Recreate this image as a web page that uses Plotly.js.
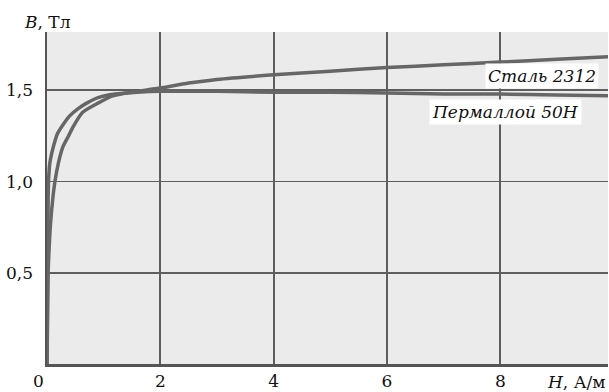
<!DOCTYPE html>
<html>
<head>
<meta charset="utf-8">
<script src="https://cdn.plot.ly/plotly-3.0.1.min.js"></script>
<style>html,body{margin:0;padding:0;background:#fff;}#chart{width:609px;height:392px;}</style>
</head>
<body>
<div id="chart"></div>
<script>
// Сталь 2312
const steelH = [0, 0.02, 0.04, 0.06, 0.1, 0.14, 0.2, 0.28, 0.38, 0.46, 0.63, 0.9, 1.16, 1.5, 1.94, 2.5, 3, 4, 5, 6, 7, 8, 9, 9.9];
const steelB = [0, 0.5, 0.65, 0.76, 0.9, 1.0, 1.1, 1.19, 1.25, 1.30, 1.38, 1.43, 1.47, 1.49, 1.51, 1.54, 1.56, 1.585, 1.605, 1.625, 1.64, 1.655, 1.67, 1.685];
// Пермаллой 50Н
const permH = [0, 0.01, 0.02, 0.03, 0.05, 0.08, 0.12, 0.18, 0.28, 0.4, 0.55, 0.7, 0.9, 1.2, 1.6, 2, 3, 4, 5, 6, 7, 8, 9, 9.9];
const permB = [0, 0.5, 0.9, 1.02, 1.1, 1.15, 1.2, 1.26, 1.31, 1.36, 1.40, 1.43, 1.46, 1.48, 1.49, 1.495, 1.495, 1.49, 1.49, 1.485, 1.48, 1.48, 1.475, 1.47];
const xTicks = [2, 4, 6, 8];
const xTickText = ['2', '4', '6', '8'];
const yTicks = [0.5, 1.0, 1.5];
const yTickText = ['0,5', '1,0', '1,5'];
const seriesNames = ['Сталь 2312', 'Пермаллой 50Н'];

const font = 'DejaVu Serif';
const fsize = 17;
const curveColor = '#666666';

const data = [
  {x: steelH, y: steelB, mode: 'lines', name: seriesNames[0], line: {color: curveColor, width: 3.5, shape: 'spline', smoothing: 0.6}},
  {x: permH, y: permB, mode: 'lines', name: seriesNames[1], line: {color: curveColor, width: 3.5, shape: 'spline', smoothing: 0.6}}
];

const layout = {
  width: 609, height: 392,
  margin: {l: 47, r: 1, t: 32, b: 28},
  paper_bgcolor: '#ffffff',
  plot_bgcolor: '#ebebeb',
  showlegend: false,
  font: {family: font, size: fsize, color: '#111'},
  xaxis: {
    range: [0, 9.9], tickvals: xTicks, ticktext: xTickText,
    showgrid: true, gridcolor: '#5e5e5e', gridwidth: 1.8,
    showline: true, linecolor: '#555', linewidth: 2.5,
    zeroline: false, ticks: '', ticklabelstandoff: 0,
    tickfont: {family: font, size: fsize, color: '#111'}
  },
  yaxis: {
    range: [0, 1.82], tickvals: yTicks, ticktext: yTickText,
    showgrid: true, gridcolor: '#5e5e5e', gridwidth: 1.8,
    showline: true, linecolor: '#555', linewidth: 2.5,
    zeroline: false, ticks: '', ticklabelstandoff: 8,
    tickfont: {family: font, size: fsize, color: '#111'}
  },
  annotations: [
    {xref: 'x', yref: 'y', x: 9.74, y: 1.579, xanchor: 'right', yanchor: 'middle', showarrow: false,
     text: '<i>' + seriesNames[0] + '</i>', bgcolor: '#ffffff', borderpad: 2, font: {family: font, size: fsize, color: '#111'}},
    {xref: 'x', yref: 'y', x: 9.44, y: 1.38, xanchor: 'right', yanchor: 'middle', showarrow: false,
     text: '<i>' + seriesNames[1] + '</i>', bgcolor: '#ffffff', borderpad: 2, font: {family: font, size: fsize, color: '#111'}},
    {xref: 'paper', yref: 'paper', x: -0.045, y: 1.03, xanchor: 'left', yanchor: 'middle', showarrow: false,
     text: '<i>B</i>, Тл', font: {family: font, size: fsize, color: '#111'}},
    {xref: 'paper', yref: 'paper', x: 0.999, y: -0.054, xanchor: 'right', yanchor: 'middle', showarrow: false,
     text: '<i>H</i>, А/м', font: {family: font, size: fsize, color: '#111'}},
    {xref: 'paper', yref: 'paper', x: -0.016, y: -0.051, xanchor: 'center', yanchor: 'middle', showarrow: false,
     text: '0', font: {family: font, size: fsize, color: '#111'}}
  ]
};

Plotly.newPlot('chart', data, layout, {displayModeBar: false, staticPlot: true});
</script>
</body>
</html>
